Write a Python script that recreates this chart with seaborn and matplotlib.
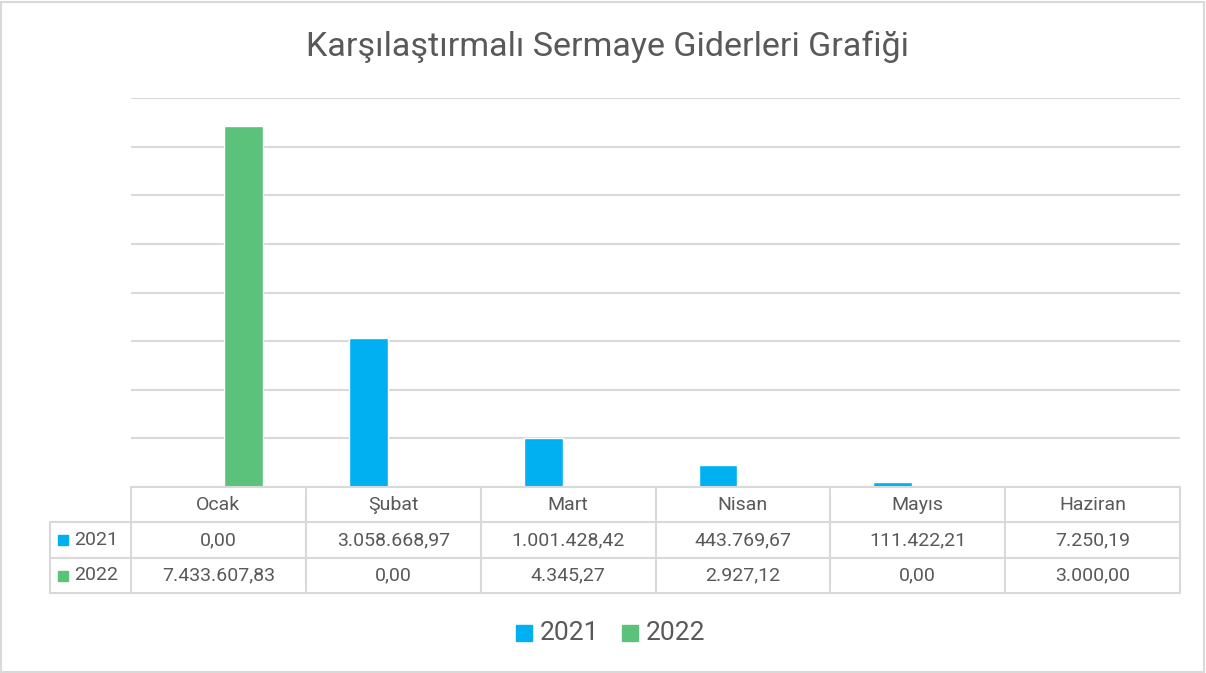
import pandas as pd
import matplotlib.pyplot as plt
import seaborn as sns
from matplotlib.patches import Rectangle

months = ['Ocak', 'Şubat', 'Mart', 'Nisan', 'Mayıs', 'Haziran']
years = ['2021', '2022']
vals_2021 = [0.00, 3058668.97, 1001428.42, 443769.67, 111422.21, 7250.19]
vals_2022 = [7433607.83, 0.00, 4345.27, 2927.12, 0.00, 3000.00]
colors = {'2021': '#00B0F0', '2022': '#5BC27B'}

def tr_fmt(v):
    s = f'{v:,.2f}'
    return s.replace(',', 'X').replace('.', ',').replace('X', '.')

df = pd.DataFrame({
    'ay': months * 2,
    'yil': ['2021'] * 6 + ['2022'] * 6,
    'tutar': vals_2021 + vals_2022,
})

sns.set_style('white')
plt.rcParams['font.family'] = ['Roboto', 'DejaVu Sans']
txt = '#595959'
grid = '#D9D9D9'

fig = plt.figure(figsize=(12.06, 6.73), dpi=100)
W, H = 1206, 673
L, R, T, B = 131, 1180, 98, 487
ax = fig.add_axes([L / W, (H - B) / H, (R - L) / W, (B - T) / H])

sns.barplot(data=df, x='ay', y='tutar', hue='yil', palette=colors,
            width=0.57, gap=0.22, ax=ax, legend=False, saturation=1)
ax.set_xlim(-0.5, 5.5)
ax.set_ylim(0, 8000000)
ax.set_yticks(range(0, 8000001, 1000000))
ax.set_yticklabels([])
ax.set_xticks([])
ax.set_xlabel('')
ax.set_ylabel('')
ax.tick_params(length=0)
ax.yaxis.grid(True, color=grid, linewidth=1.5)
ax.set_axisbelow(True)
for s in ax.spines.values():
    s.set_visible(False)

# data table under the plot
ph = B - T
def ya(px):
    return -(px - B) / ph
def xa(px):
    return (px - L) / (R - L)

rows = [487, 522, 558, 593]
lk = dict(color=grid, linewidth=1.5, transform=ax.transAxes, clip_on=False)
# horizontal lines
ax.plot([0, 1], [ya(rows[0])] * 2, **lk)
for r in rows[1:]:
    ax.plot([xa(50), 1], [ya(r)] * 2, **lk)
# vertical lines
for i in range(7):
    ax.plot([i / 6, i / 6], [ya(rows[0]), ya(rows[3])], **lk)
ax.plot([xa(50)] * 2, [ya(rows[1]), ya(rows[3])], **lk)

for i, m in enumerate(months):
    cx = (i + 0.5) / 6
    ax.text(cx, ya((rows[0] + rows[1]) / 2), m, ha='center', va='center',
            fontsize=14, color=txt, transform=ax.transAxes)
    for j, vals in enumerate([vals_2021, vals_2022]):
        ax.text(cx, ya((rows[j + 1] + rows[j + 2]) / 2), tr_fmt(vals[i]),
                ha='center', va='center', fontsize=14, color=txt,
                transform=ax.transAxes)

for j, y in enumerate(years):
    cy = (rows[j + 1] + rows[j + 2]) / 2
    ax.add_patch(Rectangle((58 / W, (H - cy - 5) / H), 10 / W, 10 / H,
                           color=colors[y], transform=fig.transFigure, clip_on=False))
    fig.text(74 / W, (H - cy) / H, y, ha='left', va='center', fontsize=14, color=txt)

# title
fig.text(0.504, (H - 47) / H, 'Karşılaştırmalı Sermaye Giderleri Grafiği',
         ha='center', va='center', fontsize=24.5, color=txt)

# legend
for x0, y in [(516, '2021'), (622, '2022')]:
    fig.patches.append(Rectangle((x0 / W, (H - 641) / H), 16 / W, 16 / H,
                                 color=colors[y], transform=fig.transFigure))
    fig.text((x0 + 24) / W, (H - 633) / H, y, ha='left', va='center',
             fontsize=19, color=txt)

# chart border
fig.patches.append(Rectangle((1 / W, 1 / H), 1 - 3 / W, 1 - 3 / H, fill=False,
                             edgecolor=grid, linewidth=1.5, transform=fig.transFigure))

plt.savefig('out.png', dpi=100)
